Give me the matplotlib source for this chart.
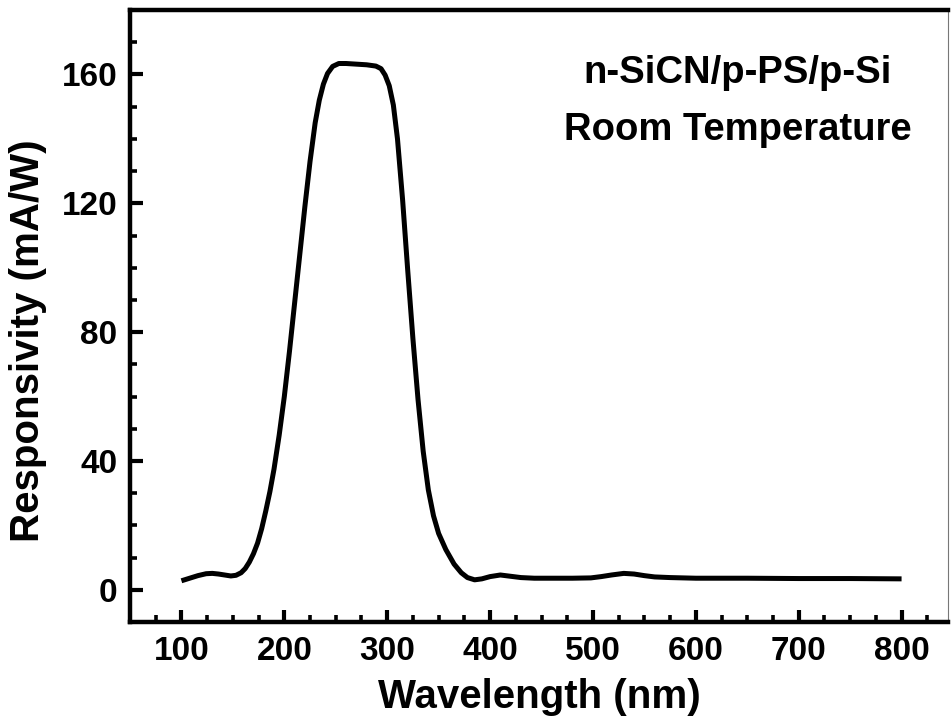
import numpy as np
import matplotlib.pyplot as plt

# wavelength (nm) and responsivity (mA/W)
wavelength = [100, 108, 116, 124, 130, 136, 142, 148, 153, 158, 162, 166, 170, 174,
              178, 182, 186, 190, 195, 200, 205, 210, 215, 220, 225, 230, 234, 238,
              242, 247, 253, 260, 270, 280, 289, 294, 298, 302, 306, 310, 315, 320,
              325, 330, 335, 340, 345, 350, 357, 365, 372, 378, 385, 392, 400, 410,
              420, 430, 443, 460, 480, 498, 508, 518, 530, 540, 550, 560, 575, 600,
              650, 700, 750, 800]
responsivity = [2.8, 3.6, 4.4, 5.0, 5.1, 4.9, 4.6, 4.3, 4.5, 5.3, 6.6, 8.6, 11.2, 14.5,
                19.0, 24.5, 30.5, 37.5, 48.0, 60.0, 74.0, 89.0, 104.0, 119.0, 133.0, 145.0, 152.0, 157.0,
                160.3, 162.5, 163.4, 163.4, 163.2, 163.0, 162.6, 161.8, 159.8, 156.5, 150.5, 140.0, 121.0, 99.0,
                78.0, 59.0, 43.0, 31.0, 23.0, 17.5, 12.5, 8.0, 5.3, 3.8, 3.1, 3.4, 4.1, 4.6,
                4.2, 3.8, 3.6, 3.6, 3.6, 3.7, 4.1, 4.6, 5.1, 4.9, 4.4, 4.0, 3.8, 3.6,
                3.6, 3.5, 3.5, 3.4]

plt.rcParams['font.family'] = ['Liberation Sans', 'DejaVu Sans']
plt.rcParams['font.weight'] = 'bold'

fig = plt.figure(figsize=(9.51, 7.27), dpi=100)
ax = fig.add_axes([0.1367, 0.1444, 0.86, 0.8418])

ax.plot(wavelength, responsivity, color='black', linewidth=3.6, solid_capstyle='butt')

ax.set_xlim(50, 845)
ax.set_ylim(-10, 180)
ax.set_xticks(np.arange(100, 801, 100))
ax.set_xticks(np.arange(75, 845, 25), minor=True)
ax.set_yticks(np.arange(0, 161, 40))
ax.set_yticks(np.arange(-10, 180, 10), minor=True)

ax.tick_params(which='both', direction='in', top=False, right=False)
ax.tick_params(which='major', length=9, width=3.0, labelsize=24)
ax.tick_params(axis='y', which='major', pad=9)
ax.tick_params(axis='x', which='major', pad=10)
ax.tick_params(which='minor', length=5, width=2.6)
for lab in ax.get_xticklabels() + ax.get_yticklabels():
    lab.set_fontweight('bold')

for side in ['left', 'bottom', 'top']:
    ax.spines[side].set_linewidth(3.2)
ax.spines['right'].set_linewidth(0.8)
ax.spines['right'].set_color('#777777')

ax.set_xlabel('Wavelength (nm)', fontsize=29, fontweight='bold', labelpad=8)
ax.set_ylabel('Responsivity (mA/W)', fontsize=29, fontweight='bold')
ax.yaxis.set_label_coords(-0.102, 0.46)

ax.text(0.743, 0.897, 'n-SiCN/p-PS/p-Si', transform=ax.transAxes, ha='center',
        va='center', fontsize=27.5, fontweight='bold')
ax.text(0.743, 0.804, 'Room Temperature', transform=ax.transAxes, ha='center',
        va='center', fontsize=27.5, fontweight='bold')

fig.savefig('out.png', dpi=100)
